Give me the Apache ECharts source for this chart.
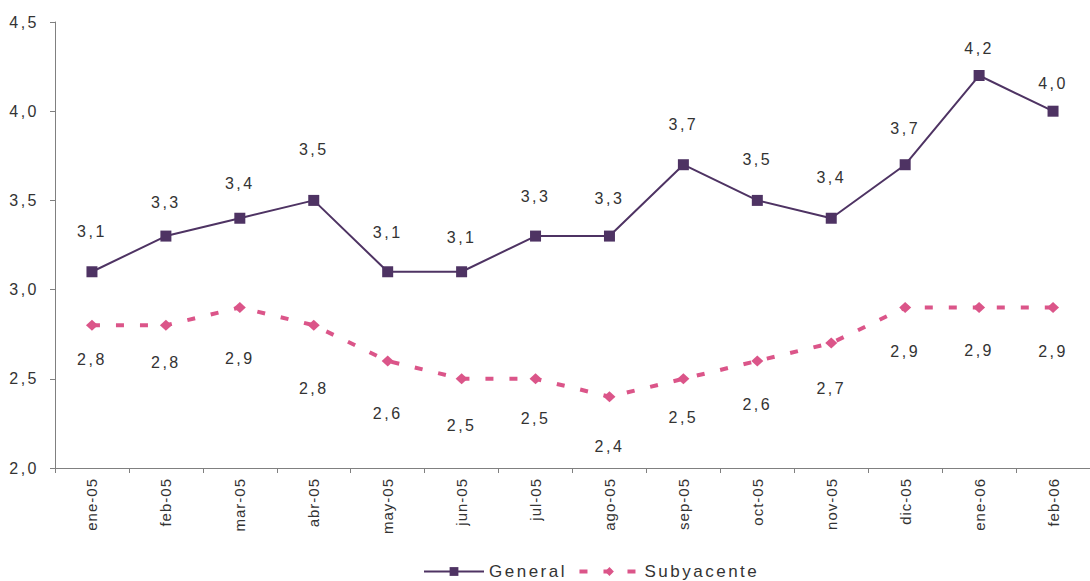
<!DOCTYPE html>
<html>
<head>
<meta charset="utf-8">
<script src="https://cdn.jsdelivr.net/npm/echarts@6/dist/echarts.min.js"></script>
<style>
html, body { margin: 0; padding: 0; background: #fff; }
#chart { width: 1090px; height: 581px; }
#chart text { letter-spacing: 2.5px; }
#chart text[style*="Arial"] { letter-spacing: 1px; }
</style>
</head>
<body>
<div id="chart"></div>
<script>
const categories = ['ene-05','feb-05','mar-05','abr-05','may-05','jun-05','jul-05','ago-05','sep-05','oct-05','nov-05','dic-05','ene-06','feb-06'];
const general = [3.1, 3.3, 3.4, 3.5, 3.1, 3.1, 3.3, 3.3, 3.7, 3.5, 3.4, 3.7, 4.2, 4.0];
const subyacente = [2.8, 2.8, 2.9, 2.8, 2.6, 2.5, 2.5, 2.4, 2.5, 2.6, 2.7, 2.9, 2.9, 2.9];
const seriesNames = ['General', 'Subyacente'];
// label nudges (style only, in pixels)
const generalLabelNudge = [-5, 2, 1, -15, -4, 1, -4, -2, -5, -5, -5, -1, 8, 8];
const subyacenteLabelNudge = [-7, -4, 10, 22, 11, 5, -2, 8, -3, 2, 4, 3, 2, 3];

const fmt = v => v.toFixed(1).replace('.', ',');
const chart = echarts.init(document.getElementById('chart'), null, { renderer: 'svg' });
const textColor = '#333333';
const font = 'Liberation Sans';
const purple = '#4e3363';
const pink = '#db5589';

chart.setOption({
  animation: false,
  backgroundColor: '#ffffff',
  grid: { left: 55, right: 0, top: 22, bottom: 113, containLabel: false },
  legend: {
    left: 418, top: 558,
    itemWidth: 60, itemHeight: 11, itemGap: 28,
    textStyle: { fontSize: 17, color: textColor, fontFamily: font },
    data: [
      { name: seriesNames[0] },
      { name: seriesNames[1], lineStyle: { type: [8, 16], width: 4, color: pink } }
    ]
  },
  xAxis: {
    type: 'category',
    data: categories,
    boundaryGap: true,
    axisLine: { lineStyle: { color: '#808080', width: 1 } },
    axisTick: { show: true, length: 5, alignWithLabel: false, lineStyle: { color: '#808080' } },
    axisLabel: { rotate: 90, fontSize: 15, color: textColor, fontFamily: 'Arial', margin: 10, interval: 0 },
    splitLine: { show: false }
  },
  yAxis: {
    type: 'value',
    min: 2.0, max: 4.5, interval: 0.5,
    axisLine: { show: true, lineStyle: { color: '#808080', width: 1 } },
    axisTick: { show: true, length: 5, lineStyle: { color: '#808080' } },
    axisLabel: { fontSize: 16, color: textColor, fontFamily: font, margin: 16, formatter: v => fmt(v) },
    splitLine: { show: false }
  },
  series: [
    {
      name: seriesNames[0],
      type: 'line',
      data: general.map((v, i) => ({ value: v, label: { offset: [0, generalLabelNudge[i]] } })),
      symbol: 'rect',
      symbolSize: 11,
      itemStyle: { color: purple },
      lineStyle: { color: purple, width: 2 },
      label: {
        show: true, position: 'top', distance: 22,
        fontSize: 16, color: textColor, fontFamily: font,
        formatter: p => fmt(p.value)
      },
      z: 3
    },
    {
      name: seriesNames[1],
      type: 'line',
      data: subyacente.map((v, i) => ({ value: v, label: { offset: [0, subyacenteLabelNudge[i]] } })),
      symbol: 'diamond',
      symbolSize: [12, 11],
      itemStyle: { color: pink },
      lineStyle: { color: pink, width: 4, type: [8, 16] },
      label: {
        show: true, position: 'bottom', distance: 28,
        fontSize: 16, color: textColor, fontFamily: font,
        formatter: p => fmt(p.value)
      },
      z: 2
    }
  ]
});
</script>
</body>
</html>
